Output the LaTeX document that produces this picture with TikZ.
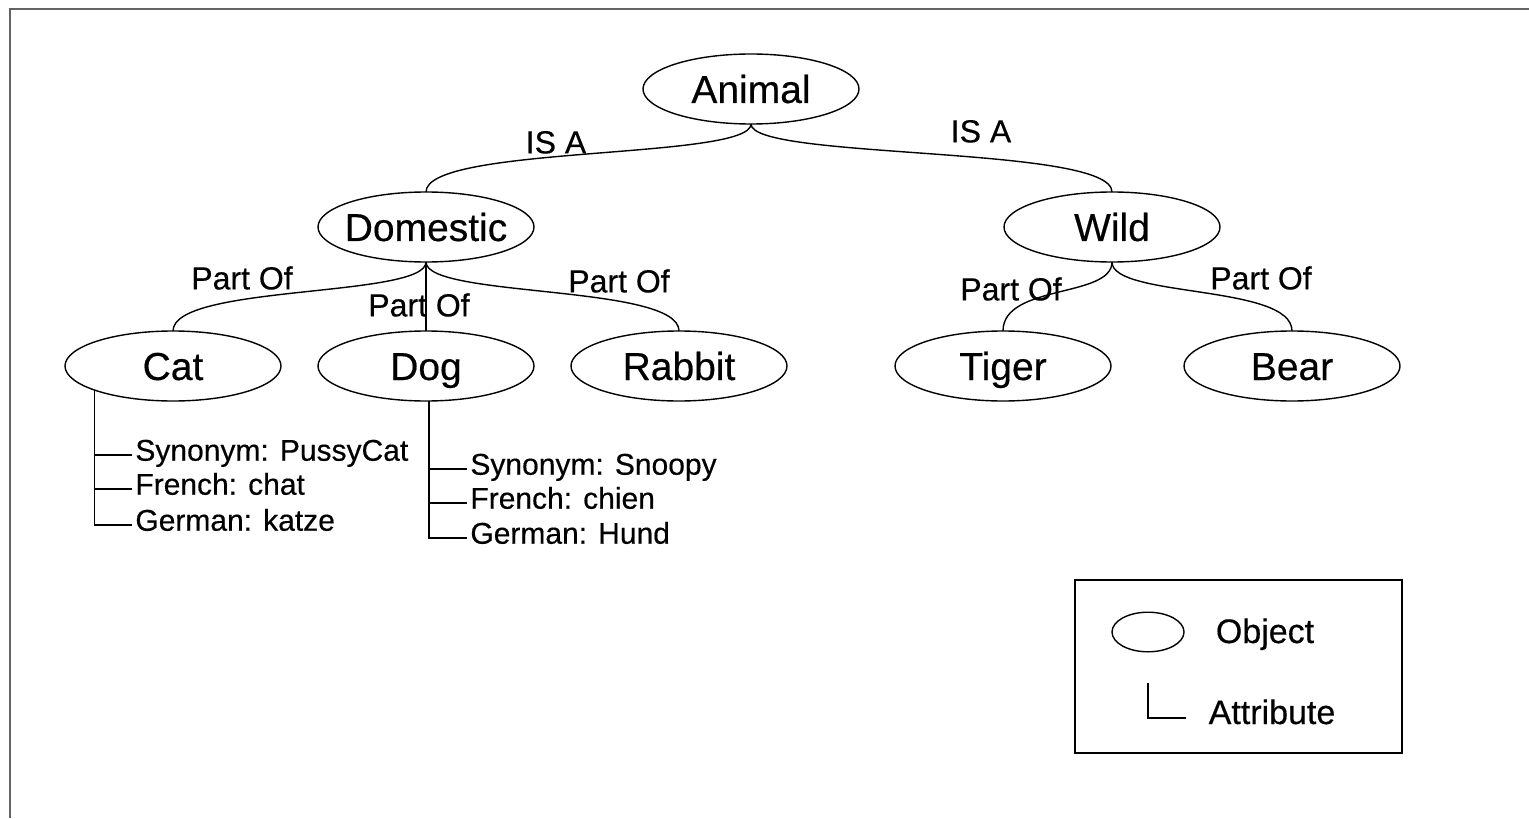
\documentclass[tikz,border=0pt]{standalone}
\usepackage{fontspec}
\setmainfont[FakeBold=0.4]{Liberation Sans}
\usetikzlibrary{shapes.geometric}
\definecolor{framegray}{RGB}{100,100,100}
\tikzset{
  object/.style={ellipse, draw, line width=0.7pt, minimum width=108pt, minimum height=35pt,
    inner xsep=-6pt, inner ysep=0pt, outer sep=0pt, text height=14pt, text depth=0pt,
    font=\fontsize{19.5}{21}\selectfont},
  rel/.style={inner sep=0pt, text height=11.4pt, text depth=0pt, font=\fontsize{16}{18}\selectfont},
  attr/.style={anchor=west, inner xsep=1.5pt, inner ysep=0pt, text height=10.7pt, text depth=5pt,
    font=\fontsize{15}{17}\selectfont},
  keytext/.style={inner sep=0pt, text height=12pt, text depth=0pt, font=\fontsize{17}{19}\selectfont},
  link/.style={line width=0.7pt},
}
\begin{document}
\begin{tikzpicture}[x=0.5pt, y=-0.5pt]
            \useasboundingbox (0,0) rectangle (1529,818);
            \draw[framegray, line width=1pt] (10,818) -- (10,9) -- (1529,9);

            \node[object] (animal) at (751,89) {Animal};
            \node[object] (domestic) at (426,227) {Domestic};
            \node[object] (wild) at (1112,227) {Wild};
            \node[object] (cat) at (173,366) {Cat};
            \node[object] (dog) at (426,366) {Dog};
            \node[object] (rabbit) at (679,366) {Rabbit};
            \node[object] (tiger) at (1003,366) {Tiger};
            \node[object] (bear) at (1292,366) {Bear};

            \draw[link] (animal.south) .. controls +(0,36) and +(0,-47) .. (domestic.north);
            \draw[link] (animal.south) .. controls +(0,36) and +(0,-47) .. (wild.north);
            \draw[link] (domestic.south) .. controls +(0,36) and +(0,-47) .. (cat.north);
            \draw[link] (domestic.south) -- (dog.north);
            \draw[link] (domestic.south) .. controls +(0,36) and +(0,-47) .. (rabbit.north);
            \draw[link] (wild.south) .. controls +(0,36) and +(0,-47) .. (tiger.north);
            \draw[link] (wild.south) .. controls +(0,36) and +(0,-47) .. (bear.north);

            \node[rel] (isadom) at (556,142) {IS A};
            \node[rel] (isawild) at (981,131) {IS A};
            \node[rel] (pocat) at (242,278) {Part Of};
            \node[rel] (podog) at (419,305) {Part Of};
            \node[rel] (porabbit) at (619,281) {Part Of};
            \node[rel] (potiger) at (1011,289) {Part Of};
            \node[rel] (pobear) at (1261,278) {Part Of};

            \node[attr] (catsyn) at (132,455) {Synonym: PussyCat};
            \node[attr] (catfr) at (132,489) {French: chat};
            \node[attr] (catde) at (132,525) {German: katze};
            \draw[link] (cat.197) |- (catsyn.west);
            \draw[link] (cat.197) |- (catfr.west);
            \draw[link] (cat.197) |- (catde.west);

            \node[attr] (dogsyn) at (467,469) {Synonym: Snoopy};
            \node[attr] (dogfr) at (467,503) {French: chien};
            \node[attr] (dogde) at (467,538) {German: Hund};
            \draw[link] (dog.-85) |- (dogsyn.west);
            \draw[link] (dog.-85) |- (dogfr.west);
            \draw[link] (dog.-85) |- (dogde.west);

            \draw[link] (1075,580) rectangle (1402,753);
            \node[object, minimum width=36pt, minimum height=18pt] (keyobj) at (1148,632) {};
            \node[keytext] (keyobjtext) at (1265,631) {Object};
            \coordinate (keytop) at (1148,683);
            \coordinate (keyend) at (1186,718);
            \draw[link] (keytop) |- (keyend);
            \node[keytext] (keyattrtext) at (1272,712) {Attribute};
        \end{tikzpicture}
\end{document}
